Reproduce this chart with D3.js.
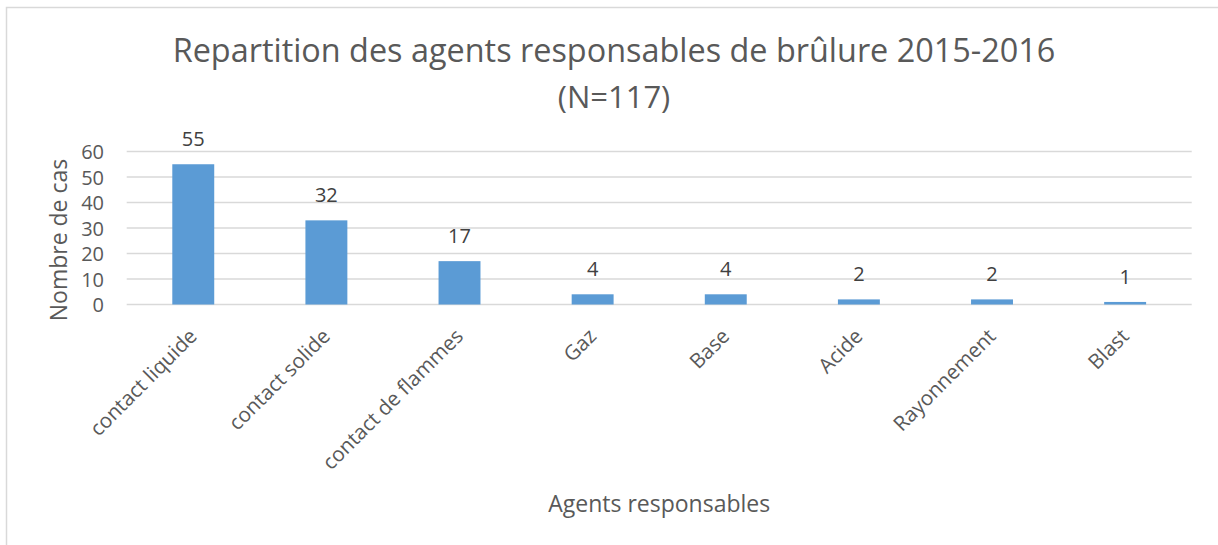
<!DOCTYPE html>
<html>
<head>
<meta charset="utf-8">
<script src="https://cdn.jsdelivr.net/npm/d3@7"></script>
<style>
  body { margin: 0; background: #fff; }
  text { font-family: "Open Sans", sans-serif; }
</style>
</head>
<body>
<div id="chart"></div>
<script>
// data
var categories = ["contact liquide", "contact solide", "contact de flammes", "Gaz", "Base", "Acide", "Rayonnement", "Blast"];
var values = [55, 33, 17, 4, 4, 2, 2, 1];          // bar heights as drawn
var valueLabels = ["55", "32", "17", "4", "4", "2", "2", "1"]; // data labels as printed
var yTicks = [0, 10, 20, 30, 40, 50, 60];
var titleLines = ["Repartition des agents responsables de brûlure 2015-2016", "(N=117)"];

var width = 1218;
var height = 545;
var plot = { left: 126.7, right: 1191.7, top: 151.5, bottom: 304.5 };

var svg = d3.select('#chart')
    .append('svg')
    .attr('width', width)
    .attr('height', height);

// chart area border
svg.append('rect')
    .attr('x', 6.5)
    .attr('y', 7.5)
    .attr('width', 1300)
    .attr('height', 700)
    .attr('fill', 'white')
    .attr('stroke', '#d9d9d9')
    .attr('stroke-width', 1.5);

var scaleX = d3.scaleBand()
    .domain(categories)
    .range([plot.left, plot.right])
    .paddingInner(0.685)
    .paddingOuter(0.3425);

var scaleY = d3.scaleLinear()
    .domain([0, 60])
    .range([plot.bottom, plot.top]);

// gridlines
svg.append('g')
    .selectAll('line')
    .data(yTicks)
    .enter()
    .append('line')
    .attr('x1', plot.left)
    .attr('x2', plot.right)
    .attr('y1', (d) => scaleY(d))
    .attr('y2', (d) => scaleY(d))
    .attr('stroke', '#d9d9d9')
    .attr('stroke-width', 1.3);

// y tick labels
var yAxis = d3.axisLeft(scaleY).tickValues(yTicks).tickSize(0).tickPadding(0);
var gy = svg.append('g')
    .attr('transform', 'translate(104,0)')
    .call(yAxis);
gy.select('.domain').remove();
gy.selectAll('text')
    .attr('fill', '#595959')
    .attr('font-size', 20)
    .attr('dy', '0.36em')
    .style('font-family', '"Open Sans", sans-serif');

// bars
svg.append('g')
    .selectAll('rect')
    .data(values)
    .enter()
    .append('rect')
    .attr('x', (d, i) => scaleX(categories[i]))
    .attr('y', (d) => scaleY(d))
    .attr('width', scaleX.bandwidth())
    .attr('height', (d) => scaleY(0) - scaleY(d))
    .attr('fill', '#5b9bd5');

// data labels
svg.append('g')
    .selectAll('text')
    .data(values)
    .enter()
    .append('text')
    .attr('x', (d, i) => scaleX(categories[i]) + scaleX.bandwidth() / 2)
    .attr('y', (d) => scaleY(d) - 18)
    .attr('text-anchor', 'middle')
    .attr('font-size', 20)
    .attr('fill', '#404040')
    .text((d, i) => valueLabels[i]);

// x axis labels, rotated
var xAxis = d3.axisBottom(scaleX).tickSize(0).tickPadding(0);
var gx = svg.append('g')
    .attr('transform', 'translate(0,' + plot.bottom + ')')
    .call(xAxis);
gx.select('.domain').remove();
gx.selectAll('text')
    .attr('fill', '#595959')
    .attr('font-size', 20.6)
    .attr('text-anchor', 'end')
    .attr('dy', 0)
    .attr('y', 0)
    .attr('transform', 'translate(5,33) rotate(-45)')
    .style('font-family', '"Open Sans", sans-serif');

// title (Open Sans digits run wider than the original face, so line 2 is set a bit smaller)
svg.append('g')
    .selectAll('text')
    .data(titleLines)
    .enter()
    .append('text')
    .attr('x', 614)
    .attr('y', (d, i) => 62 + i * 46)
    .attr('text-anchor', 'middle')
    .attr('font-size', (d, i) => i == 0 ? 32.4 : 31)
    .attr('fill', '#595959')
    .text((d) => d);

// axis titles
svg.append('text')
    .attr('x', (plot.left + plot.right) / 2)
    .attr('y', 511.5)
    .attr('text-anchor', 'middle')
    .attr('font-size', 23)
    .attr('fill', '#595959')
    .text('Agents responsables');

svg.append('text')
    .attr('transform', 'translate(66.5,240) rotate(-90)')
    .attr('text-anchor', 'middle')
    .attr('font-size', 23)
    .attr('fill', '#595959')
    .text('Nombre de cas');
</script>
</body>
</html>
